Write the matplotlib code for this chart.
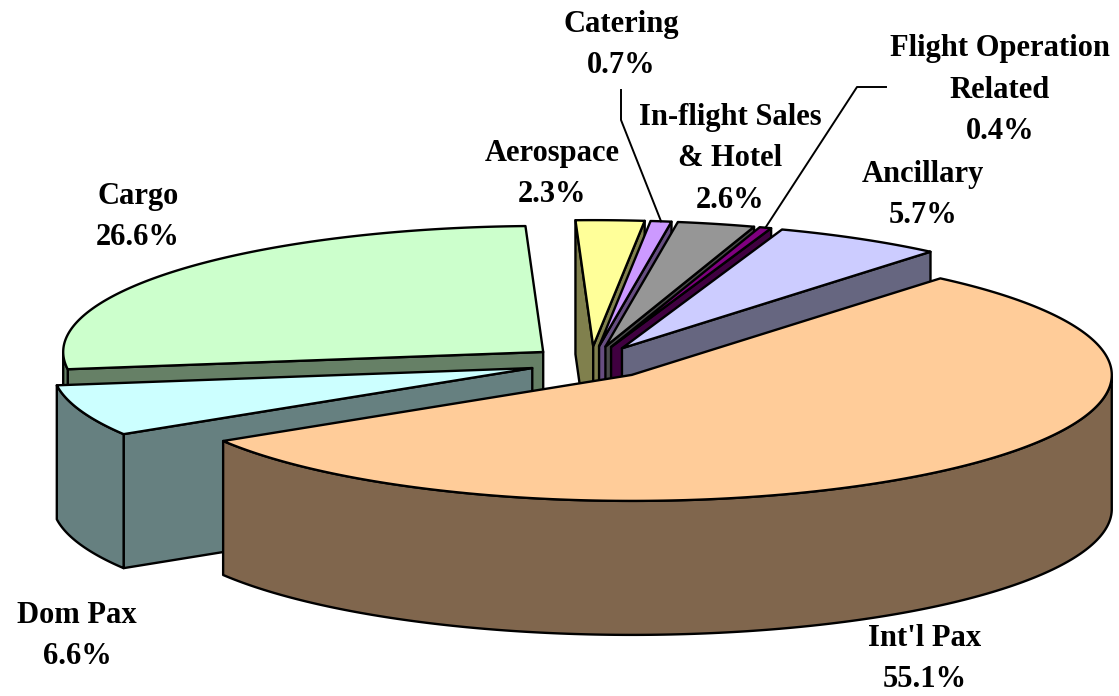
import numpy as np
import matplotlib
matplotlib.use("Agg")
import matplotlib.pyplot as plt
from matplotlib.colors import to_rgb
from matplotlib.patches import Polygon

categories = ["Int'l Pax", "Dom Pax", "Cargo", "Aerospace", "Catering",
              "In-flight Sales\n& Hotel", "Flight Operation\nRelated", "Ancillary"]
shares = [55.1, 6.6, 26.6, 2.3, 0.7, 2.6, 0.4, 5.7]
top_colors = ["#FFCC99", "#CCFFFF", "#CCFFCC", "#FFFF99", "#CC99FF",
              "#969696", "#800080", "#CCCCFF"]
draw_order = [2, 3, 4, 5, 6, 7, 1, 0]

label_pos = {0: (925, 657), 1: (77, 634), 2: (138, 215), 3: (552, 172),
             4: (621, 43), 5: (730, 157), 6: (1000, 88), 7: (923, 193)}
leaders = {4: [(621, 90), (621, 120)], 6: [(886, 87), (857, 87)]}

CX, CY = 591.0, 362.5
RX, RY = 480.0, 126.0
DEPTH = 134.0
EXPLODE = 0.13
START = 50.0
LW = 1.7

fig = plt.figure(figsize=(11.19, 6.96), dpi=100)
ax = fig.add_axes([0, 0, 1, 1])
ax.set_xlim(0, 1119)
ax.set_ylim(696, 0)
ax.axis("off")

fracs = np.array(shares) / sum(shares) * 360
ends = START - np.cumsum(fracs)
starts = ends + fracs


def rim(ox, oy, a):
    a = np.radians(a)
    return np.column_stack([ox + RX * np.cos(a), oy - RY * np.sin(a)])


def add(pts, color, z):
    ax.add_patch(Polygon(pts, closed=True, facecolor=color, edgecolor="black",
                         linewidth=LW, joinstyle="round", zorder=z))


down = np.array([0, DEPTH])
z = 1
mid_rim = {}
for i in draw_order:
    a0, a1 = starts[i], ends[i]
    mid = np.radians((a0 + a1) / 2)
    ox = CX + EXPLODE * RX * np.cos(mid)
    oy = CY - EXPLODE * RY * np.sin(mid)
    apex = np.array([[ox, oy]])
    top = to_rgb(top_colors[i])
    side = tuple(c * 0.5 for c in top)
    ang = np.linspace(a0, a1, 240)
    arc = rim(ox, oy, ang)
    mid_rim[i] = rim(ox, oy, np.array([(a0 + a1) / 2]))[0]

    # radial cut faces: only those turned towards the viewer
    walls = []
    if np.cos(np.radians(a0)) < 0:
        walls.append(arc[0])
    if np.cos(np.radians(a1)) > 0:
        walls.append(arc[-1])
    for end in walls:
        e = end[None, :]
        add(np.vstack([apex, e, e + down, apex + down]), side, z)
        z += 1
    # outer wall: only the portion of the rim that faces the viewer
    front = arc[np.sin(np.radians(ang)) <= 0]
    if len(front) > 1:
        add(np.vstack([front, (front + down)[::-1]]), side, z)
        z += 1
    add(np.vstack([apex, arc]), top, z)
    z += 1

for i, (x, y) in label_pos.items():
    ax.text(x, y + 2, f"{categories[i]}\n{shares[i]:.1f}%", ha="center", va="center",
            family=["Liberation Serif"], fontweight="bold", fontsize=22,
            linespacing=1.58, color="black", zorder=z + 1)

for i, pts in leaders.items():
    xs = [p[0] for p in pts] + [mid_rim[i][0]]
    ys = [p[1] for p in pts] + [mid_rim[i][1]]
    ax.plot(xs, ys, color="black", lw=1.4, zorder=z)

fig.savefig("out.png", dpi=100)
